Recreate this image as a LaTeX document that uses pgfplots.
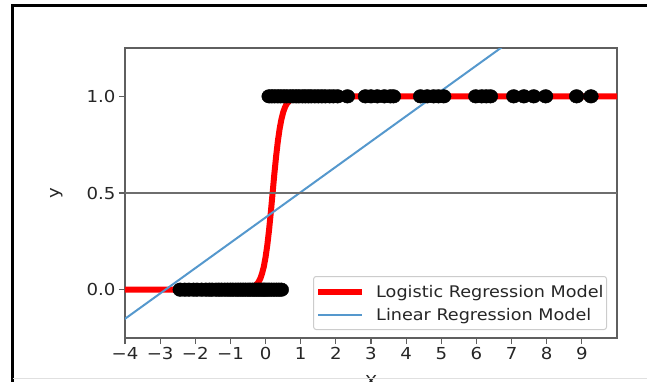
\documentclass[border=0pt]{standalone}
\usepackage{fontspec}
\setmainfont[FakeStretch=1.1]{DejaVu Sans}
\usepackage{pgfplots}
\pgfplotsset{compat=1.18}
\definecolor{lrblue}{RGB}{85,152,205}
\definecolor{spine}{RGB}{95,95,95}
\definecolor{axh}{RGB}{110,110,110}
\newcommand\tfont{\fontsize{16.5}{19}\selectfont}
\newcommand\lfont{\fontsize{16}{19}\selectfont}
\begin{document}
\begin{tikzpicture}[x=1pt,y=1pt]
\useasboundingbox (-125,-43) rectangle (522,338);
\begin{axis}[at={(0,0)}, anchor=south west, scale only axis,
  width=492pt, height=290pt,
  xmin=-4, xmax=10, ymin=-0.25, ymax=1.25,
  xtick={-4,-3,-2,-1,0,1,2,3,4,5,6,7,8,9},
  xticklabels={−4,−3,−2,−1,0,1,2,3,4,5,6,7,8,9},
  ytick={0,0.5,1}, yticklabels={0.0,0.5,1.0},
  tick pos=left, tick align=outside, major tick length=6pt,
  tick style={line width=1.2pt, color=spine},
  axis line style={line width=1.6pt, color=spine},
  tick label style={font=\tfont, text=black!85},
  xlabel={X}, ylabel={y},
  label style={font=\tfont, text=black!85},
  xlabel style={at={(axis description cs:0.5,-0.128)}, anchor=north, inner sep=0pt},
  ylabel style={at={(axis description cs:-0.139,0.5)}, anchor=center, inner sep=0pt},
  legend style={at={(axis description cs:1,0)}, anchor=south east,
    xshift=-10pt, yshift=8pt, draw=black!20, line width=1pt,
    rounded corners=2.5pt, fill=white, fill opacity=0.8, text opacity=1,
    font=\lfont, text=black!85, inner xsep=1.6pt, inner ysep=3.5pt,
    column sep=11pt, row sep=0pt,
    nodes={inner xsep=0pt, inner ysep=0pt, text height=17.35pt, text depth=5.65pt}},
  legend cell align=left,
  legend image code/.code={\draw[#1] (0pt,0pt) -- (44pt,0pt);},
]
% logistic regression model
\addplot[red, line width=6pt] coordinates {
(-5,0) (-2,0) (-1,0.0000677) (-0.6,0.00166) (-0.5,0.00369) (-0.4,0.0082)
(-0.3,0.0180) (-0.2,0.0392) (-0.15,0.0573) (-0.1,0.0832) (-0.05,0.1192)
(0,0.1680) (0.05,0.2315) (0.1,0.3100) (0.15,0.4013) (0.2,0.5) (0.25,0.5987)
(0.3,0.6900) (0.35,0.7685) (0.4,0.8320) (0.45,0.8808) (0.5,0.9168)
(0.55,0.9427) (0.6,0.9608) (0.7,0.9820) (0.8,0.9918) (0.9,0.99631)
(1.0,0.99834) (1.4,0.99993) (2,1) (10,1) (11,1)};
\addlegendentry{Logistic Regression Model\hspace*{1.4pt}}
% linear regression model
\addplot[lrblue, line width=2pt] coordinates {(-5,-0.2817) (10,1.6834)};
\addlegendentry{Linear Regression Model}
% threshold line
\addplot[axh, line width=1.5pt, forget plot] coordinates {(-5,0.5) (11,0.5)};
% samples, y = 0
\addplot[only marks, mark=*, mark size=6.8pt, black, forget plot, mark options={xscale=1.08}] coordinates {
(-2.43,0) (-2.3,0) (-2.18,0) (-2.05,0) (-1.95,0) (-1.82,0) (-1.7,0) (-1.6,0)
(-1.52,0) (-1.41,0) (-1.33,0) (-1.25,0) (-1.16,0) (-1.08,0) (-1.0,0) (-0.93,0)
(-0.85,0) (-0.78,0) (-0.71,0) (-0.64,0) (-0.57,0) (-0.5,0) (-0.44,0) (-0.37,0)
(-0.31,0) (-0.25,0) (-0.19,0) (-0.13,0) (-0.07,0) (-0.02,0) (0.04,0) (0.1,0)
(0.17,0) (0.24,0) (0.31,0) (0.38,0) (0.45,0)};
% samples, y = 1
\addplot[only marks, mark=*, mark size=6.8pt, black, forget plot, mark options={xscale=1.08}] coordinates {
(0.1,1) (0.18,1) (0.26,1) (0.35,1) (0.43,1) (0.52,1) (0.6,1) (0.7,1) (0.78,1)
(0.87,1) (0.95,1) (1.05,1) (1.13,1) (1.22,1) (1.3,1) (1.4,1) (1.5,1) (1.6,1)
(1.7,1) (1.82,1) (1.93,1) (2.05,1) (2.33,1)
(2.84,1) (3.0,1) (3.18,1) (3.38,1) (3.55,1) (3.64,1)
(4.41,1) (4.6,1) (4.78,1) (4.92,1) (5.07,1)
(5.98,1) (6.15,1) (6.28,1) (6.40,1)
(7.06,1) (7.35,1) (7.63,1) (7.97,1)
(8.85,1) (9.26,1)};
\end{axis}
\draw[black, line width=3pt] (-112,-50) -- (-112,332) -- (530,332);
\draw[black!12, line width=1pt] (-112,-40.5) -- (530,-40.5);
\end{tikzpicture}
\end{document}
